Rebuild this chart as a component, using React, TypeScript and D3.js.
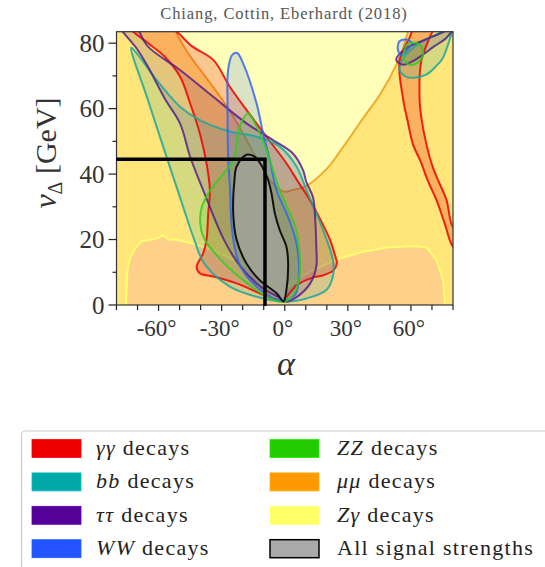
import React, { useEffect, useRef } from 'react';
import * as d3 from 'd3';

type Pt = [number, number];

const alphaDomain = [-80, 80];
const vDomain = [0, 83.5];
const xTicks = [-60, -30, 0, 30, 60];
const xMinorTicks = [-80, -70, -50, -40, -20, -10, 10, 20, 40, 50, 70, 80];
const yTicks = [0, 20, 40, 60, 80];
const yMinorTicks = [10, 30, 50, 70];

// region outside the mu-mu band (the pale "V")
const muMuGap: Pt[] = [
  [-54, 95], [-52, 84], [-46, 77], [-38, 70], [-30, 63], [-23, 56], [-17, 49], [-11.5, 42.5],
  [-7, 38.2], [-3, 35.5], [0, 34.6], [4, 35.2], [10.3, 36.4], [19.8, 41.5],
  [28, 48.5], [37.4, 57.2], [45.3, 64.3], [53, 73.4], [57, 80], [59, 95],
];

// region outside the Z-gamma band (two lobes at the bottom)
const zGammaGap: Pt[] = [
  [-75.6, -5], [-75.4, 2], [-74.8, 10.7], [-73.5, 14.5], [-71.5, 16.8], [-68.3, 19.5], [-63.6, 19.9],
  [-60, 20.5], [-58, 21.4], [-54.9, 19.9], [-50.9, 19.9], [-44.6, 18.9], [-36.7, 17.3],
  [-27.3, 14.8], [-17.8, 11.7], [-9.9, 8.2], [-3.6, 4.6], [0.3, 2.5], [1.1, 5], [7.4, 8.7],
  [16.9, 11.7], [26.4, 14.3], [37.4, 16.3], [48.5, 17.6], [61, 18], [67.4, 17.6], [72.1, 13.8],
  [75.3, 7.6], [76.1, 1], [76.2, -5],
];

const gammaGammaLeft: Pt[] = [
  [-55, 85], [-44, 79], [-34, 74.9], [-26.1, 66.7], [-18.2, 59.6], [-8.7, 51.4], [0.8, 43.3],
  [6, 38], [12, 32], [17, 26], [21.5, 20], [24, 15], [24.8, 12.7], [23, 10.5], [18, 9],
  [13, 8.3], [5.6, 6], [0.8, 2.5], [-2.4, 1.3], [-11.9, 3.6], [-22.9, 6.6], [-34, 8.7],
  [-40.4, 9.7], [-41.9, 11.7], [-38.8, 15.8], [-37.2, 19.9], [-36.4, 28], [-35.6, 35.1],
  [-37.2, 43.3], [-40.4, 52.5], [-45, 61.6], [-49.8, 69.8], [-57.3, 76], [-66, 80.5], [-74, 85],
];
const gammaGammaRight: Pt[] = [
  [54.6, 74.5], [56.2, 63.2], [58.5, 56], [61, 49], [64.5, 44], [68, 38], [72.1, 32.1], [76, 25],
  [80, 17.8], [83, 17], [83, 23.9], [80, 23.9], [76.9, 32.1], [73, 38], [70.5, 41.9], [67.4, 49],
  [65, 57], [64.1, 63.2], [64.9, 74.5], [68.8, 81.6], [71.5, 86], [62.8, 86], [59.3, 81.6],
];

const bbLeft: Pt[] = [
  [-73, 78.6], [-65.1, 62.7], [-57.3, 47.4], [-49.4, 32.1], [-43, 19.9], [-38.3, 12.7],
  [-26.1, 5.6], [-13.4, 2.5], [-0.8, 1], [10.3, 2], [19.8, 4.6], [22.9, 8.7], [22.9, 13.7],
  [18.2, 22.9], [13.7, 30], [10.3, 35.1], [5.6, 42.3], [-2.4, 48.4], [-13.4, 51.4],
  [-26.1, 53], [-40.4, 56.5], [-49.8, 60.6], [-60, 68], [-69.9, 76.5],
];
const bbRight: Pt[] = [
  [54.6, 71.8], [57.5, 69.8], [60.9, 69.4], [67.3, 70.4], [72, 73], [75.2, 75.5], [79.2, 82.6],
  [81, 86], [72, 82.6], [65.7, 80.6], [60, 78], [56, 75],
];

const tauTauLeft: Pt[] = [
  [-79, 86], [-70, 78], [-65.1, 72.9], [-57, 63], [-49.8, 55.5], [-45, 45.3], [-38.8, 35.1],
  [-28.9, 19.9], [-21, 11.7], [-11.5, 5.6], [-2, 2], [0, 1], [5.8, 2.5], [12.1, 6.6],
  [15, 11.7], [15, 17.8], [14.5, 26], [13.4, 33], [10.3, 37.5], [8.7, 41.2], [3.9, 46.3],
  [-5.6, 50.4], [-18.2, 55.5], [-34, 63.6], [-49.8, 71.8], [-65.1, 79], [-72, 86],
];
const tauTauRight: Pt[] = [
  [53, 74.9], [56.2, 73.4], [61, 74.5], [65.7, 76.5], [71, 79], [76.8, 81.6], [80, 84.5],
  [74, 83], [68.8, 81.6], [62, 79.8], [57.8, 78.5],
];

const wwLeft: Pt[] = [
  [-24.9, 76.5], [-26.9, 72], [-27.2, 60], [-26.9, 45], [-26, 35], [-24.9, 21.9], [-21, 11.7],
  [-11.5, 4.6], [-2, 1.5], [5, 3.2], [6.8, 10], [5.5, 19], [1.5, 27], [-3.9, 35.1], [-7.1, 44.3],
  [-10.3, 52.5], [-13.4, 61.6], [-19.8, 73.8], [-22.6, 77],
];
const wwRight: Pt[] = [
  [53.8, 78], [54.6, 80.6], [57.8, 81.1], [60.5, 80], [58.5, 78.2], [55.5, 76.2],
];

const zzLeft: Pt[] = [
  [-17.4, 58.6], [-21.4, 54.5], [-24.5, 44.3], [-30, 39.5], [-35.5, 35], [-39.4, 30],
  [-40.2, 25], [-38.5, 20.5], [-30.4, 13.8], [-17.8, 6.6], [-5.2, 1.5], [0, 1], [4.3, 3.6],
  [7, 8.7], [5.8, 21.9], [1.1, 30], [-2.4, 35.1], [-5.6, 41.2], [-8.7, 47.4], [-13.4, 54.5],
];
const zzRight: Pt[] = [
  [56.4, 76.5], [58.2, 73.7], [61, 73.4], [64.5, 74.8], [65.7, 77.5], [63.5, 79.8], [59, 80],
];

const allSignal: Pt[] = [
  [-18.2, 45.9], [-22.9, 42.3], [-23.9, 38.2], [-24.5, 28], [-22.9, 19.9], [-18.2, 12.7],
  [-11.9, 7.6], [-3.9, 3.6], [-0.6, 1.1], [0.8, 4.6], [1.6, 12.7], [0.8, 17.8], [-2.4, 22.9],
  [-4.7, 28], [-6.3, 34.1], [-7.9, 38.2], [-10.5, 42], [-14, 45.2],
];

const crossAlpha = -9.4;
const crossV = 44.5;

const legendColors = ['#ee0000', '#00a8a8', '#550099', '#2255ff', '#22cc00', '#ff9900', '#ffff66', '#aaaaaa'];
const legendMath = ['γγ', 'bb', 'ττ', 'WW', 'ZZ', 'μμ', 'Zγ', ''];
const legendText = [' decays', ' decays', ' decays', ' decays', ' decays', ' decays', ' decays', 'All signal strengths'];

const W = 545;
const H = 567;
const SERIF = '"Liberation Serif", "DejaVu Serif", serif';

export default function App() {
  const ref = useRef<SVGSVGElement>(null);

  useEffect(() => {
    if (!ref.current) return;
    const svg = d3.select(ref.current);
    svg.selectAll('*').remove();

    const x = d3.scaleLinear().domain(alphaDomain).range([116.5, 453]);
    const y = d3.scaleLinear().domain(vDomain).range([305, 31.7]);
    const x0 = x(alphaDomain[0]), x1 = x(alphaDomain[1]);
    const y0 = y(vDomain[0]), y1 = y(vDomain[1]);
    const rectPath = `M${x0},${y1}H${x1}V${y0}H${x0}Z`;

    const smooth = d3.line<Pt>().x(d => x(d[0])).y(d => y(d[1])).curve(d3.curveCatmullRomClosed.alpha(0.5));
    const rough = d3.line<Pt>().x(d => x(d[0])).y(d => y(d[1])).curve(d3.curveLinearClosed);

    svg.append('defs').append('clipPath').attr('id', 'plotclip')
      .append('rect').attr('x', x0).attr('y', y1).attr('width', x1 - x0).attr('height', y0 - y1);

    const g = svg.append('g').attr('clip-path', 'url(#plotclip)');
    g.append('rect').attr('x', x0).attr('y', y1).attr('width', x1 - x0).attr('height', y0 - y1).attr('fill', '#fff');

    // mu-mu band and Z-gamma band as plot minus their excluded area
    g.append('path').attr('d', rectPath + smooth(muMuGap)).attr('fill-rule', 'evenodd')
      .attr('fill', '#ff9900').attr('fill-opacity', 0.46);
    g.append('path').attr('d', rectPath + rough(zGammaGap)).attr('fill-rule', 'evenodd')
      .attr('fill', '#ffff66').attr('fill-opacity', 0.45);
    g.append('path').attr('d', smooth(muMuGap)).attr('fill', 'none')
      .attr('stroke', '#f5a623').attr('stroke-width', 1.8);
    g.append('path').attr('d', rough(zGammaGap)).attr('fill', 'none')
      .attr('stroke', '#ffff70').attr('stroke-width', 2);

    const regions: [Pt[], string, number][] = [
      [gammaGammaLeft, '#ee0000', 0.22], [gammaGammaRight, '#ee0000', 0.22],
      [bbLeft, '#1aa89c', 0.18], [bbRight, '#1aa89c', 0.18],
      [tauTauLeft, '#552288', 0.16], [tauTauRight, '#552288', 0.16],
      [wwLeft, '#3366ee', 0.18], [wwRight, '#3366ee', 0.18],
      [zzLeft, '#33cc22', 0.16], [zzRight, '#33cc22', 0.16],
    ];
    regions.forEach(([pts, c, a]) => {
      g.append('path').attr('d', smooth(pts)).attr('fill', c).attr('fill-opacity', a);
    });
    regions.forEach(([pts, c]) => {
      g.append('path').attr('d', smooth(pts)).attr('fill', 'none')
        .attr('stroke', c).attr('stroke-opacity', 0.85).attr('stroke-width', 2);
    });

    g.append('path').attr('d', smooth(allSignal)).attr('fill', '#a8a8a8').attr('fill-opacity', 0.6)
      .attr('stroke', '#111').attr('stroke-width', 2);

    // frame
    svg.append('rect').attr('x', x0).attr('y', y1).attr('width', x1 - x0).attr('height', y0 - y1)
      .attr('fill', 'none').attr('stroke', '#333').attr('stroke-width', 1.2);

    // cross-hair
    svg.append('path')
      .attr('d', `M${x0},${y(crossV)}H${x(crossAlpha)}V${y0 + 1}`)
      .attr('fill', 'none').attr('stroke', '#000').attr('stroke-width', 3.5);

    // axes
    const axes = svg.append('g').attr('stroke', '#222').attr('stroke-width', 1.2);
    yTicks.forEach(t => axes.append('line').attr('x1', x0 - 8).attr('x2', x0).attr('y1', y(t)).attr('y2', y(t)));
    yMinorTicks.forEach(t => axes.append('line').attr('x1', x0 - 4).attr('x2', x0).attr('y1', y(t)).attr('y2', y(t)));
    xTicks.forEach(t => axes.append('line').attr('x1', x(t)).attr('x2', x(t)).attr('y1', y0).attr('y2', y0 + 6));
    xMinorTicks.forEach(t => axes.append('line').attr('x1', x(t)).attr('x2', x(t)).attr('y1', y0).attr('y2', y0 + 5));

    yTicks.forEach(t => svg.append('text').attr('x', x0 - 12).attr('y', y(t) + 8.5)
      .attr('text-anchor', 'end').attr('font-family', SERIF).attr('font-size', 25).attr('fill', '#333').text(String(t)));
    xTicks.forEach(t => svg.append('text').attr('x', x(t) - 2).attr('y', y0 + 31)
      .attr('text-anchor', 'middle').attr('font-family', SERIF).attr('font-size', 23).attr('fill', '#333').text(`${t}°`));

    // title and axis titles
    svg.append('text').attr('x', 284).attr('y', 19).attr('text-anchor', 'middle')
      .attr('font-family', SERIF).attr('font-size', 16.5).attr('letter-spacing', 0.9).attr('fill', '#555')
      .text('Chiang, Cottin, Eberhardt (2018)');
    svg.append('text').attr('x', 286).attr('y', 375).attr('text-anchor', 'middle')
      .attr('font-family', SERIF).attr('font-style', 'italic').attr('font-size', 34).attr('fill', '#333').text('α');
    const yl = svg.append('text').attr('transform', 'translate(56,153) rotate(-90)').attr('text-anchor', 'middle')
      .attr('font-family', SERIF).attr('font-size', 30).attr('fill', '#333');
    yl.append('tspan').attr('font-style', 'italic').attr('font-size', 32).text('v');
    yl.append('tspan').attr('font-size', 20).attr('dy', 6).text('Δ');
    yl.append('tspan').attr('dy', -6).text(' [GeV]');

    // legend
    const lg = svg.append('g');
    lg.append('rect').attr('x', 21.5).attr('y', 431).attr('width', 560).attr('height', 160).attr('rx', 4)
      .attr('fill', '#fff').attr('stroke', '#cccccc').attr('stroke-width', 1.2);
    legendColors.forEach((c, i) => {
      const col = Math.floor(i / 4), row = i % 4;
      const sx = col === 0 ? 32 : 270;
      const sy = 439.5 + row * 33.4;
      lg.append('rect').attr('x', sx).attr('y', sy).attr('width', 49).attr('height', 18)
        .attr('fill', c).attr('stroke', i === 7 ? '#000' : d3.color(c)!.brighter(0.4).toString())
        .attr('stroke-width', i === 7 ? 1.5 : 0.8);
      const t = lg.append('text').attr('x', col === 0 ? 96 : 337).attr('y', sy + 15.5)
        .attr('font-family', SERIF).attr('font-size', 22).attr('letter-spacing', 1.3).attr('fill', '#222');
      if (legendMath[i]) t.append('tspan').attr('font-style', 'italic').text(legendMath[i]);
      t.append('tspan').text(legendText[i]);
    });
  }, []);

  return <svg ref={ref} width={W} height={H} style={{ position: 'absolute', left: 0, top: 0, background: '#fff' }} />;
}
